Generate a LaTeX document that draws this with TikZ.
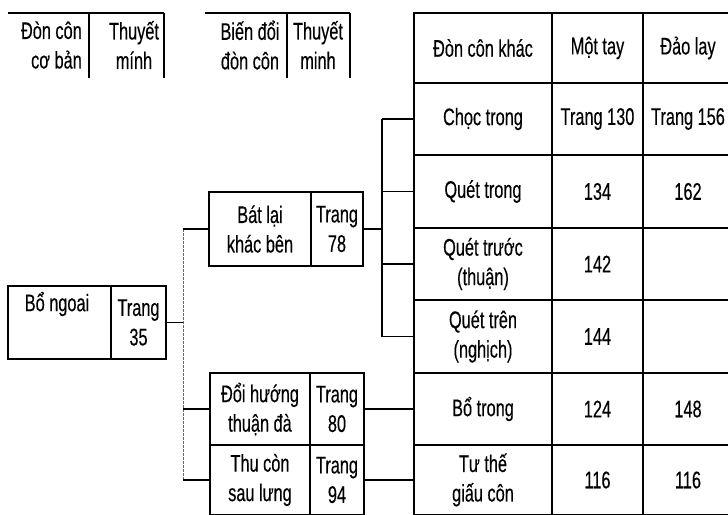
\documentclass[tikz,border=0pt]{standalone}
\usepackage{fontspec}
\setmainfont{Liberation Sans}[FakeStretch=0.68, FakeBold=0.3]
\begin{document}
\begin{tikzpicture}[x=1pt,y=-1pt,
  every node/.style={font=\fontsize{24}{29.5}\selectfont, inner sep=0pt, align=center},
  cell/.style n args={2}{draw, line width=1.3pt, minimum width=#1, minimum height=#2},
  rule/.style={line width=1.3pt},
  link/.style={line width=1.3pt},
  spine/.style={line width=1pt, black!60, dash pattern=on 3pt off 1pt}]
\useasboundingbox (0,0) rectangle (728,514);
\clip (0,0) rectangle (728,514);

% header blocks (top left)
\draw[rule] (8,13) -- (164,13);
\draw[rule] (89,13) -- (89,78);
\draw[rule] (164,13) -- (164,78);
\draw[rule] (205,13) -- (350,13);
\draw[rule] (287,13) -- (287,78);
\draw[rule] (350,13) -- (350,78);
\node[anchor=east, align=right] (h1) at (82,45) {Đòn côn\\cơ bản};
\node (h2) at (134,45) {Thuyết\\mính};
\node (h3) at (250,45) {Biến đổi\\đòn côn};
\node (h4) at (318,45) {Thuyết\\minh};

% Bổ ngoai
\node[cell={103}{73}] (bnA) at (59.5,322.5) {};
\node (bnT) at (57,304) {Bổ ngoai};
\node[cell={55}{73}] (bnB) at (138.5,322.5) {Trang\\35};

% Bát lại khác bên
\node[cell={102}{74}] (blA) at (260,229) {Bát lại\\khác bên};
\node[cell={52}{74}] (blB) at (337,229) {Trang\\78};

% Đổi hướng thuận đà
\node[cell={100}{72}] (dhA) at (260,409) {Đổi hướng\\thuận đà};
\node[cell={54}{72}] (dhB) at (337,409) {Trang\\80};

% Thu còn sau lưng
\node[cell={100}{70}] (tcA) at (260,480) {Thu còn\\sau lưng};
\node[cell={54}{70}] (tcB) at (337,480) {Trang\\94};

% table
\node[cell={138}{70}] (h0a) at (483,48) {Đòn côn khác};
\node[cell={91}{70}]  (h0b) at (597.5,48) {Một tay};
\node[cell={90}{70}]  (h0c) at (688,48) {Đảo lay};

\node[cell={138}{72}] (r1a) at (483,119) {Chọc trong};
\node[cell={91}{72}]  (r1b) at (597.5,119) {Trang 130};
\node[cell={90}{72}]  (r1c) at (688,119) {Trang 156};

\node[cell={138}{73}] (r2a) at (483,191.5) {Quét trong};
\node[cell={91}{73}]  (r2b) at (597.5,191.5) {134};
\node[cell={90}{73}]  (r2c) at (688,191.5) {162};

\node[cell={138}{72}] (r3a) at (483,264) {Quét trước\\(thuận)};
\node[cell={91}{72}]  (r3b) at (597.5,264) {142};
\node[cell={90}{72}]  (r3c) at (688,264) {};

\node[cell={138}{73}] (r4a) at (483,336.5) {Quét trên\\(nghịch)};
\node[cell={91}{73}]  (r4b) at (597.5,336.5) {144};
\node[cell={90}{73}]  (r4c) at (688,336.5) {};

\node[cell={138}{72}] (r5a) at (483,409) {Bổ trong};
\node[cell={91}{72}]  (r5b) at (597.5,409) {124};
\node[cell={90}{72}]  (r5c) at (688,409) {148};

\node[cell={138}{70}] (r6a) at (483,480) {Tư thế\\giấu côn};
\node[cell={91}{70}]  (r6b) at (597.5,480) {116};
\node[cell={90}{70}]  (r6c) at (688,480) {116};

% connectors
\coordinate (spx) at (183,0);
\coordinate (spy) at (382,0);
\draw[link] (bnB.east) -- (bnB.east -| spx);
\draw[spine] (blA.west -| spx) -- (tcA.west -| spx);
\draw[link] (blA.west -| spx) -- (blA.west);
\draw[link] (dhA.west -| spx) -- (dhA.west);
\draw[link] (tcA.west -| spx) -- (tcA.west);

\draw[link] (blB.east) -- (blB.east -| spy);
\draw[link] (r1a.west -| spy) -- (r4a.west -| spy);
\draw[link] (r1a.west -| spy) -- (r1a.west);
\draw[link] (r2a.west -| spy) -- (r2a.west);
\draw[link] (r3a.west -| spy) -- (r3a.west);
\draw[link] (r4a.west -| spy) -- (r4a.west);

\draw[link] (dhB.east) -- (r5a.west);
\draw[link] (tcB.east) -- (r6a.west);
\end{tikzpicture}
\end{document}
